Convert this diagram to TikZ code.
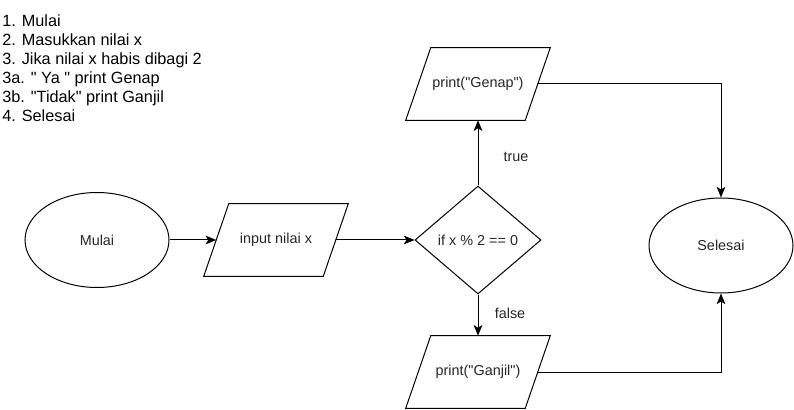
\documentclass[tikz,border=0pt]{standalone}
\usepackage{fontspec}
\setmainfont{Liberation Sans}[Ligatures=TeXOff]
\usetikzlibrary{shapes.geometric,arrows.meta}
\newcommand\dq{\symbol{34}}
\newcommand\paraoutline[1]{%
  \draw[line width=0.75pt] ([xshift=9.375pt]#1.north west) -- ([xshift=9.375pt]#1.north east)
    -- ([xshift=-9.375pt]#1.south east) -- ([xshift=-9.375pt]#1.south west) -- cycle;}
\begin{document}
\begin{tikzpicture}[x=0.75pt,y=-0.75pt,
  every node/.style={font=\fontsize{10.8}{13}\selectfont, text=black!85},
  term/.style={ellipse, draw, line width=0.75pt, minimum width=108pt, minimum height=71.25pt, inner sep=0pt},
  para/.style={rectangle, minimum width=89.25pt, minimum height=54pt, inner sep=0pt},
  decision/.style={diamond, draw, line width=0.75pt, minimum width=94.5pt, minimum height=81pt, inner sep=0pt},
  conn/.style={line width=0.75pt, -{Stealth[length=8pt,width=6.5pt,inset=2pt]}},
  lbl/.style={inner sep=0pt}]
\useasboundingbox (0,0) rectangle (794,410);
\node[anchor=north west, inner sep=0pt, align=left, text=black,
      font=\fontsize{12.2}{14.25}\selectfont] (steps) at (2,14)
  {1. Mulai\\2. Masukkan nilai x\\3. Jika nilai x habis dibagi 2\\3a. \dq{} Ya \dq{} print Genap\\3b. \dq Tidak\dq{} print Ganjil\\4. Selesai};
\node[term] (mulai) at (97,240) {Mulai};
\node[para] (inp) at (276,240) {input nilai x};
\paraoutline{inp}
\node[decision] (dia) at (478,240) {if x \% 2 == 0};
\node[para] (genap) at (478,84) {print(\dq Genap\dq)};
\paraoutline{genap}
\node[para] (ganjil) at (478,372) {print(\dq Ganjil\dq)};
\paraoutline{ganjil}
\node[term] (selesai) at (721,245.5) {Selesai};
\draw[conn] (mulai.east) -- (inp.west);
\draw[conn] (inp.east) -- (dia.west);
\draw[conn] (dia.north) -- (genap.south);
\draw[conn] (dia.south) -- (ganjil.north);
\draw[conn] (genap.east) -| (selesai.north);
\draw[conn] (ganjil.east) -| (selesai.south);
\node[lbl] (ltrue) at (516,157) {true};
\node[lbl] (lfalse) at (510,313) {false};
\end{tikzpicture}
\end{document}
